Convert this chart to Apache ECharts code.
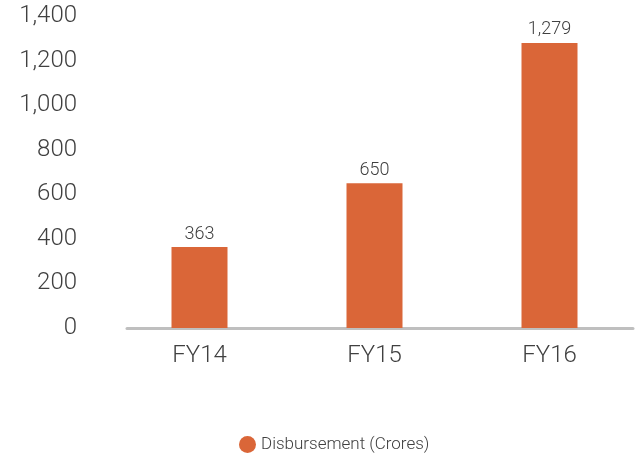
<!DOCTYPE html>
<html>
<head>
<meta charset="utf-8">
<script src="https://cdn.jsdelivr.net/npm/echarts@6/dist/echarts.min.js"></script>
<style>
  html, body { margin: 0; padding: 0; background: #fff; }
  #main { width: 643px; height: 453px; }
</style>
</head>
<body>
<div id="main"></div>
<script>
// 数据
var categories = ['FY14', 'FY15', 'FY16'];
var disbursement = [363, 650, 1279];
var seriesName = 'Disbursement (Crores)';

var myChart = echarts.init(document.getElementById('main'));
var font = 'Roboto';
var txt = '#404040';

myChart.setOption({
	textStyle : { fontFamily : font },
	legend : {
		data : [ seriesName ],
		left : 234,
		top : 431,
		icon : 'circle',
		itemWidth : 17,
		itemHeight : 17,
		textStyle : { fontSize : 17, color : txt, fontFamily : font, fontWeight : 300 }
	},
	grid : [ {
		left : 112,
		right : 6,
		top : 16,
		bottom : 125
	}, {
		// 仅用于绘制底部坐标轴线
		left : 127,
		right : 10,
		top : 16,
		bottom : 125
	} ],
	xAxis : [ {
		type : 'category',
		gridIndex : 0,
		data : categories,
		axisLine : { show : false },
		axisTick : { show : false },
		axisLabel : { fontSize : 24, color : txt, margin : 16, fontFamily : font, fontWeight : 300 }
	}, {
		type : 'category',
		gridIndex : 1,
		data : categories,
		axisLine : { lineStyle : { color : '#bfbfbf', width : 3 } },
		axisTick : { show : false },
		axisLabel : { show : false }
	} ],
	yAxis : [ {
		type : 'value',
		gridIndex : 0,
		min : 0,
		max : 1400,
		interval : 200,
		axisLine : { show : false },
		axisTick : { show : false },
		splitLine : { show : false },
		axisLabel : {
			fontSize : 24,
			color : txt,
			margin : 35,
			fontFamily : font,
			fontWeight : 300,
			formatter : function (v) { return v.toLocaleString('en-US'); }
		}
	}, {
		type : 'value',
		gridIndex : 1,
		min : 0,
		max : 1400,
		show : false
	} ],
	series : [ {
		name : seriesName,
		type : 'bar',
		xAxisIndex : 0,
		yAxisIndex : 0,
		data : disbursement,
		barWidth : 56,
		itemStyle : { color : '#DA6638' },
		label : {
			show : true,
			position : 'top',
			distance : 4,
			fontSize : 18,
			color : txt,
			fontFamily : font,
			fontWeight : 300,
			formatter : function (p) { return p.value.toLocaleString('en-US'); }
		}
	} ]
});
</script>
</body>
</html>
